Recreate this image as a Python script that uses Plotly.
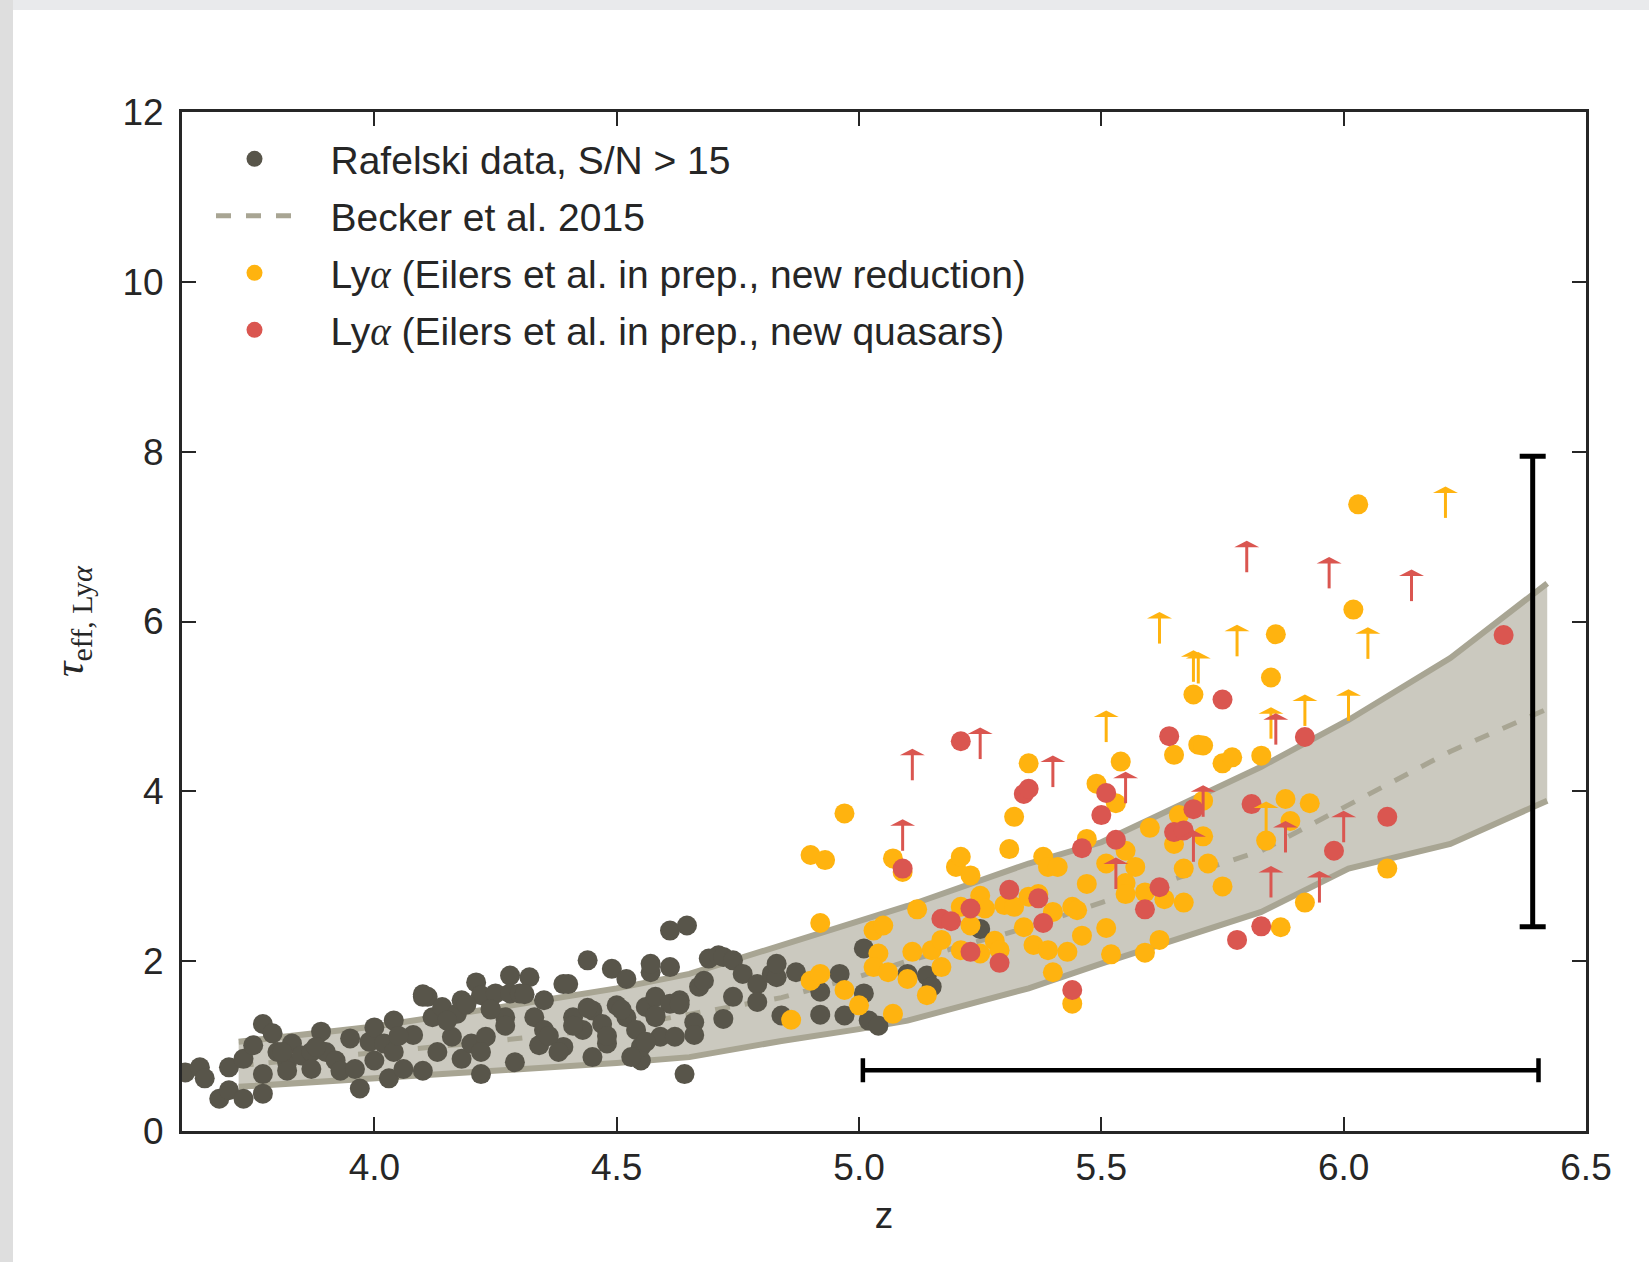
import plotly.graph_objects as go

# ---------------- data ----------------
# Rafelski data, S/N > 15
raf_z = [3.61, 3.64, 3.65, 3.68, 3.70, 3.70, 3.73, 3.73, 3.75, 3.77, 3.77, 3.77, 3.79, 3.80, 3.82, 3.82,
         3.83, 3.85, 3.87, 3.87, 3.89, 3.90, 3.92, 3.93, 3.95, 3.96, 3.97, 3.99, 4.00, 4.00, 4.02, 4.03,
         4.04, 4.04, 4.06, 4.08, 4.10, 4.10, 4.11, 4.12, 4.13, 4.14, 4.16, 4.17, 4.18, 4.18, 4.20, 4.21,
         4.22, 4.22, 4.23, 4.24, 4.25, 4.27, 4.28, 4.28, 4.29, 4.30, 4.32, 4.33, 4.34, 4.35, 4.35, 4.39,
         4.39, 4.40, 4.41, 4.43, 4.44, 4.45, 4.45, 4.47, 4.48, 4.49, 4.50, 4.52, 4.52, 4.54, 4.55, 4.56,
         4.57, 4.57, 4.58, 4.59, 4.61, 4.61, 4.61, 4.55, 4.58, 4.62, 4.63,
         4.64, 4.645, 4.66, 4.66, 4.67, 4.68, 4.69, 4.71, 4.72, 4.72, 4.74, 4.74, 4.76, 4.79, 4.79, 4.82,
         4.83, 4.83, 4.84, 4.87, 4.92, 4.92, 4.96, 4.97, 5.01, 5.01, 5.02, 5.04, 5.10, 5.14, 5.15, 5.25,
         4.10, 4.15, 4.19, 4.24, 4.27, 4.31, 4.36, 4.41, 4.44, 4.48, 4.51, 4.56, 4.58, 4.63, 4.22, 4.38,
         4.53, 4.05, 3.88, 3.81]
raf_tau = [0.69, 0.75, 0.62, 0.38, 0.75, 0.48, 0.38, 0.85, 1.01, 1.26, 0.67, 0.44, 1.15, 0.93, 0.81, 0.71,
           1.03, 0.89, 0.93, 0.73, 1.17, 0.93, 0.83, 0.71, 1.09, 0.73, 0.50, 1.05, 0.83, 1.22, 1.03, 0.62,
           1.30, 0.93, 0.73, 1.13, 0.71, 1.58, 1.58, 1.34, 0.93, 1.46, 1.11, 1.38, 0.85, 1.54, 1.03, 1.75,
           0.67, 1.60, 1.11, 1.44, 1.62, 1.34, 1.83, 1.62, 0.81, 1.62, 1.81, 1.34, 1.01, 1.54, 1.19, 1.73,
           0.99, 1.73, 1.34, 1.19, 2.01, 0.87, 1.42, 1.26, 1.03, 1.91, 1.48, 1.79, 1.34, 1.19, 0.83, 1.46,
           1.87, 1.97, 1.58, 1.11, 2.36, 1.93, 1.50, 0.99, 1.34, 1.11, 1.54,
           0.67, 2.42, 1.28, 1.13, 1.70, 1.77, 2.03, 2.07, 1.32, 2.05, 2.01, 1.58, 1.85, 1.73, 1.52, 1.85,
           1.81, 1.97, 1.36, 1.87, 1.64, 1.37, 1.85, 1.36, 2.15, 1.62, 1.30, 1.24, 1.85, 1.83, 1.70, 2.38,
           1.61, 1.30, 1.49, 1.43, 1.24, 1.61, 1.12, 1.24, 1.45, 1.12, 1.43, 1.05, 1.36, 1.49, 0.93, 0.93,
           0.87, 1.12, 0.99, 0.93]

# Ly-alpha, new reduction (measurements)
nr_z = [4.97, 4.90, 4.93, 4.92, 4.86, 4.90, 4.92, 4.97, 5.00, 5.03, 5.05, 5.04, 5.03, 5.06, 5.07, 5.07,
        5.09, 5.10, 5.11, 5.12, 5.14, 5.15, 5.17, 5.17, 5.20, 5.21, 5.21, 5.21, 5.23, 5.23, 5.25, 5.25,
        5.26, 5.28, 5.29, 5.30, 5.31, 5.32, 5.32, 5.34, 5.35, 5.35, 5.36, 5.37, 5.38, 5.39, 5.39, 5.40,
        5.40, 5.41, 5.43, 5.44, 5.45, 5.46, 5.47, 5.47, 5.49, 5.44,
        6.03, 6.02, 5.86, 5.85, 5.69, 5.70, 5.71, 5.65, 5.75, 5.77, 5.83, 5.54, 5.53, 5.71, 5.66, 5.60,
        5.65, 5.71, 5.55, 5.57, 5.51, 5.67, 5.72, 5.55, 5.55, 5.59, 5.63, 5.67, 5.75, 5.51, 5.52, 5.59,
        5.62, 5.84, 5.88, 5.89, 5.93, 5.92, 5.87, 6.09]
nr_tau = [3.74, 3.25, 3.19, 2.45, 1.31, 1.77, 1.85, 1.66, 1.48, 2.36, 2.42, 2.09, 1.93, 1.87, 1.38, 3.21,
          3.05, 1.79, 2.11, 2.61, 1.60, 2.13, 2.25, 1.93, 3.11, 3.23, 2.13, 2.64, 3.01, 2.42, 2.77, 2.09,
          2.62, 2.24, 2.13, 2.66, 3.32, 2.64, 3.70, 2.40, 2.76, 4.33, 2.19, 2.79, 3.23, 3.11, 2.13, 1.87,
          2.58, 3.11, 2.11, 2.64, 2.60, 2.30, 2.91, 3.44, 4.09, 1.50,
          7.38, 6.14, 5.85, 5.34, 5.14, 4.55, 4.54, 4.43, 4.33, 4.40, 4.42, 4.35, 3.86, 3.89, 3.72, 3.57,
          3.38, 3.47, 3.30, 3.11, 3.15, 3.09, 3.15, 2.92, 2.79, 2.81, 2.73, 2.69, 2.88, 2.39, 2.08, 2.10,
          2.25, 3.42, 3.91, 3.65, 3.86, 2.69, 2.40, 3.09]

# Ly-alpha, new quasars (measurements)
nq_z = [5.21, 5.09, 5.34, 5.35, 5.31, 5.37, 5.38, 5.23, 5.17, 5.19, 5.23, 5.29, 5.44, 5.46,
        6.33, 5.75, 5.64, 5.92, 5.51, 5.50, 5.53, 5.65, 5.67, 5.69, 5.81, 5.62, 5.59, 5.98, 6.09, 5.83, 5.78]
nq_tau = [4.59, 3.09, 3.97, 4.03, 2.84, 2.74, 2.45, 2.62, 2.50, 2.47, 2.11, 1.98, 1.66, 3.33,
          5.84, 5.08, 4.65, 4.64, 3.98, 3.72, 3.43, 3.52, 3.54, 3.79, 3.85, 2.87, 2.61, 3.30, 3.70, 2.41, 2.25]

# lower limits (arrows)
nr_lim_z = [6.21, 5.62, 5.78, 6.05, 5.69, 5.70, 6.01, 5.85, 5.92, 5.51, 5.84]
nr_lim_tau = [7.22, 5.74, 5.59, 5.56, 5.29, 5.27, 4.83, 4.62, 4.77, 4.58, 3.51]
nq_lim_z = [5.11, 5.25, 5.09, 5.40, 5.80, 5.97, 6.14, 5.86, 5.55, 5.71, 5.69, 5.88, 6.00, 5.53, 5.85, 5.95]
nq_lim_tau = [4.13, 4.38, 3.30, 4.05, 6.58, 6.39, 6.24, 4.55, 3.86, 3.70, 3.17, 3.28, 3.40, 2.85, 2.75, 2.69]

# Becker et al. 2015 band
becker_z = [3.72, 4.00, 4.25, 4.50, 4.65, 4.84, 5.00, 5.10, 5.35, 5.50, 5.83, 6.01, 6.22, 6.42]
becker_lo = [0.52, 0.62, 0.70, 0.80, 0.87, 1.06, 1.20, 1.30, 1.68, 1.97, 2.58, 3.09, 3.38, 3.89]
becker_mid = [0.77, 0.92, 1.06, 1.22, 1.37, 1.57, 1.82, 2.00, 2.40, 2.69, 3.30, 3.84, 4.47, 4.97]
becker_hi = [1.05, 1.23, 1.45, 1.68, 1.85, 2.18, 2.46, 2.65, 3.15, 3.40, 4.29, 4.84, 5.57, 6.45]

# representative error bars
errx_z, errx_tau, errx_half = [5.705], [0.715], [0.697]
erry_z, erry_tau, erry_half = [6.39], [5.175], [2.77]

# legend labels
alpha = "<span style='font-family:Liberation Serif;font-style:italic'>α</span>"
PAD = "\u00a0\u00a0\u00a0"
lab_raf = PAD + "Rafelski data, S/N > 15"
lab_becker = PAD + "Becker et al. 2015"
lab_nr = PAD + "Ly" + alpha + " (Eilers et al. in prep., new reduction)"
lab_nq = PAD + "Ly" + alpha + " (Eilers et al. in prep., new quasars)"

# ---------------- style ----------------
FONT = "Liberation Sans"
SERIF = "Liberation Serif"
TXT = "#262626"
GRAY = "#58554A"
YEL = "#FFB30F"
RED = "#DA5650"
EDGE = "#A8A593"
FILL = "#CBC9BF"

W, H = 1649, 1262
ML, MR, MT, MB = 182, 63, 112, 131
PW, PH = W - ML - MR, H - MT - MB

fig = go.Figure()

# band
fig.add_trace(go.Scatter(x=becker_z, y=becker_lo, mode="lines", line=dict(color=EDGE, width=6),
                         showlegend=False, hoverinfo="skip"))
fig.add_trace(go.Scatter(x=becker_z, y=becker_hi, mode="lines", line=dict(color=EDGE, width=6),
                         fill="tonexty", fillcolor=FILL, showlegend=False, hoverinfo="skip"))
fig.add_trace(go.Scatter(x=becker_z, y=becker_mid, mode="lines", name=lab_becker,
                         line=dict(color=EDGE, width=5, dash="15px,15px"),
                         legendrank=2, legendgroup="b"))

fig.add_trace(go.Scatter(x=raf_z, y=raf_tau, mode="markers", name=lab_raf,
                         marker=dict(color=GRAY, size=20), legendrank=1, legendgroup="a"))
fig.add_trace(go.Scatter(x=nr_z, y=nr_tau, mode="markers", name=lab_nr,
                         marker=dict(color=YEL, size=20), legendrank=3, legendgroup="c"))
fig.add_trace(go.Scatter(x=nq_z, y=nq_tau, mode="markers", name=lab_nq,
                         marker=dict(color=RED, size=20), legendrank=4, legendgroup="d"))

# error bars
fig.add_trace(go.Scatter(x=errx_z, y=errx_tau, mode="markers", marker=dict(size=1, color="rgba(0,0,0,0)"),
                         error_x=dict(type="data", array=errx_half, color="black", thickness=4.5, width=12),
                         showlegend=False, hoverinfo="skip"))
fig.add_trace(go.Scatter(x=erry_z, y=erry_tau, mode="markers", marker=dict(size=1, color="rgba(0,0,0,0)"),
                         error_y=dict(type="data", array=erry_half, color="black", thickness=5, width=13),
                         showlegend=False, hoverinfo="skip"))

# lower-limit arrows (pixel-sized shapes anchored at data values)
shapes = []
for zs, ts, col in [(nr_lim_z, nr_lim_tau, YEL), (nq_lim_z, nq_lim_tau, RED)]:
    for zz, tt in zip(zs, ts):
        shapes.append(dict(type="path", xref="x", yref="y", xsizemode="pixel", ysizemode="pixel",
                           xanchor=zz, yanchor=tt, path="M0,0V26", line=dict(color=col, width=3),
                           layer="above"))
        shapes.append(dict(type="path", xref="x", yref="y", xsizemode="pixel", ysizemode="pixel",
                           xanchor=zz, yanchor=tt, path="M-12.5,25L12.5,25L0,31.5Z",
                           fillcolor=col, line=dict(width=0), layer="above"))

# page frame shading (top and left edges of the screenshot)
shapes.append(dict(type="rect", xref="paper", yref="paper", layer="below",
                   x0=-ML / PW, x1=(W - ML) / PW, y0=1 + (MT - 10) / PH, y1=1 + MT / PH,
                   fillcolor="#E9EAEC", line=dict(width=0)))
shapes.append(dict(type="rect", xref="paper", yref="paper", layer="below",
                   x0=-ML / PW, x1=(-ML + 13) / PW, y0=-MB / PH, y1=1 + MT / PH,
                   fillcolor="#DEDEDE", line=dict(width=0)))

axis_common = dict(showline=True, linecolor=TXT, linewidth=3, mirror="ticks", ticks="inside",
                   ticklen=14, tickwidth=2, tickcolor=TXT, showgrid=False, zeroline=False,
                   tickfont=dict(family=FONT, size=37, color=TXT))

fig.update_layout(
    width=W, height=H,
    margin=dict(l=ML, r=MR, t=MT, b=MB, autoexpand=False),
    paper_bgcolor="white", plot_bgcolor="white",
    shapes=shapes,
    showlegend=True,
    legend=dict(x=(211 - ML) / PW, xanchor="left", y=1 - (127 - MT) / PH, yanchor="top",
                font=dict(family=FONT, size=39, color=TXT), bgcolor="rgba(0,0,0,0)",
                itemwidth=77, tracegroupgap=3.3, traceorder="grouped"),
    xaxis=dict(range=[3.6031, 6.5], tick0=4.0, dtick=0.5, tickformat=".1f",
               ticklabelstandoff=2,
               title=dict(text="z", font=dict(family=FONT, size=37, color=TXT), standoff=15),
               **axis_common),
    yaxis=dict(range=[0, 12], tick0=0, dtick=2, ticklabelstandoff=8,
               title=dict(text="<i>τ</i><sub>eff, Ly<i>α</i></sub>",
                          font=dict(family=SERIF, size=43, color=TXT), standoff=26),
               **axis_common),
)

fig.write_html("out.html")
